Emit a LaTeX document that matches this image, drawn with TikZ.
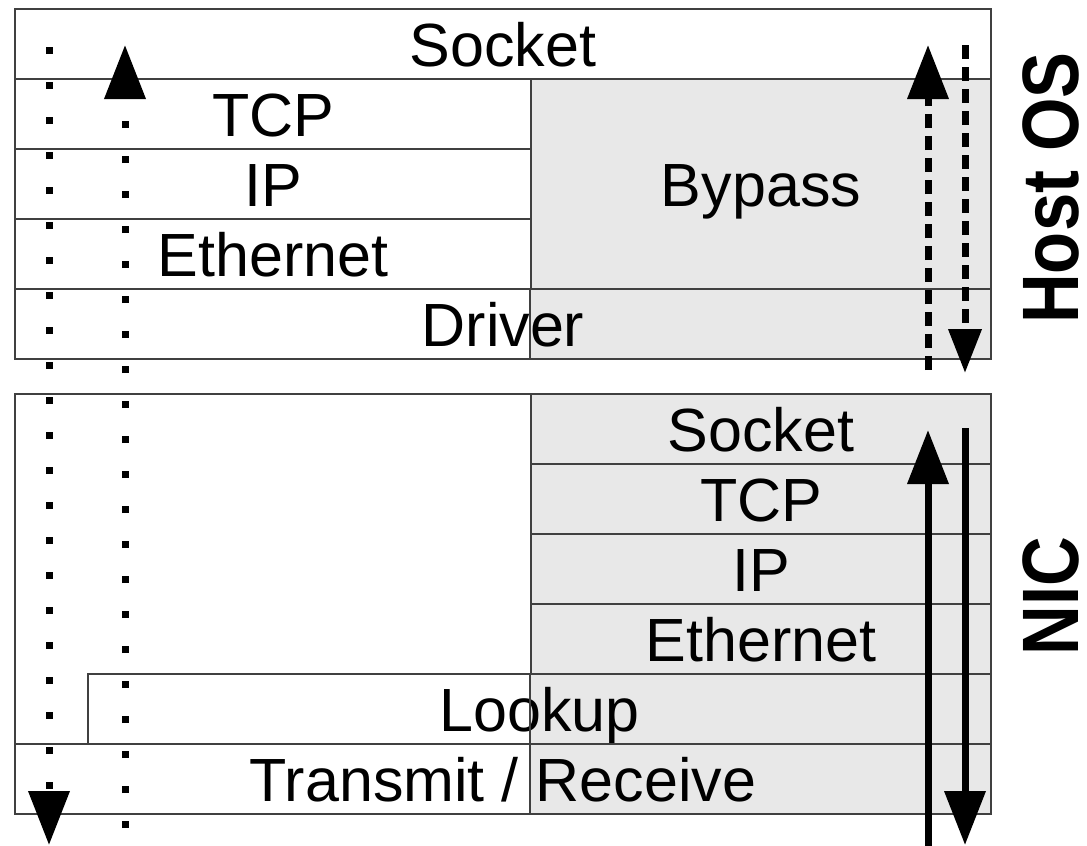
\documentclass[tikz,border=0pt]{standalone}
\usepackage{fontspec}
\setmainfont{Liberation Sans}
\usepackage{tikz}
\usetikzlibrary{arrows.meta, positioning}
\newcommand{\layerfont}{\fontsize{30.5}{36}\selectfont}
\newcommand{\sidefont}{\fontsize{40}{46}\selectfont\bfseries}
\tikzstyle{cell}   = [draw=black!75, line width=1pt, inner sep=0pt, anchor=north west, minimum height=35pt, text height=22pt, text depth=0pt, font=\layerfont]
\tikzstyle{full}   = [cell, minimum width=488pt]
\tikzstyle{lhalf}  = [cell, minimum width=258pt]
\tikzstyle{rhalf}  = [cell, minimum width=230pt]
\tikzstyle{side}   = [rotate=90, xscale=0.86, text height=29pt, text depth=0pt, inner sep=0pt, font=\sidefont]
\tikzstyle{shade}  = [fill=gray!18, draw=none]
\tikzstyle{flow}   = [line width=3.5pt, -{Triangle[width=20pt,length=27pt]}]
\tikzstyle{dots}   = [flow, dash pattern=on 3.5pt off 14pt]
\tikzstyle{dashes} = [flow, dash pattern=on 7pt off 4pt]

\begin{document}
\begin{tikzpicture}[x=0.5pt, y=-0.5pt]
  \useasboundingbox (0,0) rectangle (1087,846);

  % offloaded parts
  \fill[shade] (530,78) rectangle (990,358);
  \fill[shade] (530,393) rectangle (990,813);

  % Host stack
  \node[full]  (hsock)  at (14,8)   {Socket};
  \node[lhalf] (htcp)   at (14,78)  {TCP};
  \node[lhalf] (hip)    at (14,148) {IP};
  \node[lhalf] (heth)   at (14,218) {Ethernet};
  \node[rhalf, minimum height=105pt] (bypass) at (530,78) {Bypass};
  \node[full]  (driver) at (14,288) {Driver};
  \draw[black!75, line width=1pt] (bypass.south west) -- (driver.south west -| bypass.south west);

  % NIC stack
  \node[full, minimum height=210pt] (nicbox) at (14,393) {};
  \node[rhalf] (nsock)  at (530,393) {Socket};
  \node[rhalf] (ntcp)   at (530,463) {TCP};
  \node[rhalf] (nip)    at (530,533) {IP};
  \node[rhalf] (neth)   at (530,603) {Ethernet};
  \node[cell, minimum width=451.5pt] (lookup) at (87,673) {Lookup};
  \node[full]  (txrx)   at (14,743) {Transmit / Receive};
  \draw[black!75, line width=1pt] (neth.south west) -- (txrx.south -| neth.south west);

  % side labels
  \node[side] (hostlbl) at (1049,188) {Host OS};
  \node[side] (niclbl)  at (1049,596) {NIC};

  % kernel path
  \coordinate (ktxtail) at (49,47);   \coordinate (ktxhead) at (49,845);
  \coordinate (krxtail) at (125,828); \coordinate (krxhead) at (125,45);
  \draw[dots] (ktxtail) -- (ktxhead);
  \draw[dots] (krxtail) -- (krxhead);

  % bypass path
  \coordinate (brxtail) at (928,370); \coordinate (brxhead) at (928,45);
  \coordinate (btxtail) at (965,45);  \coordinate (btxhead) at (965,373);
  \draw[dashes] (brxtail) -- (brxhead);
  \draw[dashes, -{Triangle[width=16pt,length=22pt]}] (btxtail) -- (btxhead);

  % offload path
  \coordinate (orxtail) at (928,846); \coordinate (orxhead) at (928,430);
  \coordinate (otxtail) at (965,428); \coordinate (otxhead) at (965,845);
  \draw[flow] (orxtail) -- (orxhead);
  \draw[flow] (otxtail) -- (otxhead);
\end{tikzpicture}
\end{document}
